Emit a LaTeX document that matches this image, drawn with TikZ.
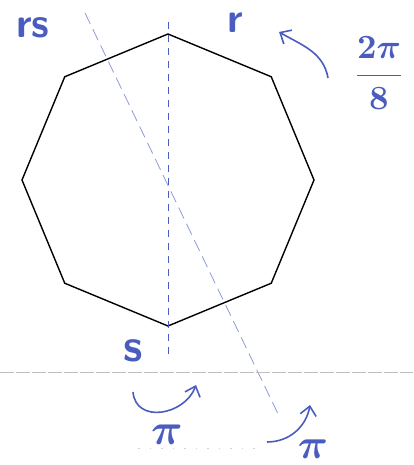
\documentclass[tikz,border=0pt]{standalone}
\usepackage{amsmath,amssymb}
\usepackage{tikz}
\usetikzlibrary{calc,positioning,arrows.meta}
\usepackage{xcolor}
\definecolor{Ink}{HTML}{4A5DBF}
\definecolor{PaleInk}{HTML}{8C9AD8}
\definecolor{Rule}{HTML}{BDBDBD}

\begin{document}
\begin{tikzpicture}[x=1pt,y=1pt, every node/.style={align=center,inner sep=0pt,text=Ink}]
\useasboundingbox (0,0) rectangle (413,465);
% the octagon
\draw[line width=1.4pt,line join=miter,shift={(168,285)}] (90:146) \foreach \a in {135,180,...,405} { -- (\a:146)} -- cycle;
% reflection axes and page rules
\coordinate (sTop) at (168,443);
\coordinate (sBot) at (168,110);
\coordinate (rsTop) at (85,452);
\coordinate (rsBot) at (280,47);
\coordinate (ruleL) at (0,93);
\coordinate (ruleR) at (413,93);
\coordinate (dotsL) at (138,17);
\coordinate (dotsR) at (262,17);
\draw[Ink,line width=1pt,dash pattern=on 7pt off 6pt] (sTop)--(sBot);
\draw[PaleInk,line width=.8pt,dash pattern=on 12pt off 6pt] (rsTop)--(rsBot);
\draw[Rule,line width=.6pt,dash pattern=on 14pt off 2pt] (ruleL)--(ruleR);
\draw[Rule!70,line width=.6pt,dash pattern=on 1.5pt off 10pt] (dotsL)--(dotsR);
% labels
\node[font=\sffamily\bfseries\fontsize{42}{42}\selectfont] (rs) at (33,437) {rs};
\node[font=\sffamily\bfseries\fontsize{42}{42}\selectfont] (r) at (235,442) {r};
\node[font=\sffamily\bfseries\fontsize{46}{46}\selectfont] (s) at (133,114) {s};
\node (angle) at (379,392) {\scalebox{3.4}{$\boldsymbol{\dfrac{2\pi}{8}}$}};
\node (piS) at (167,30) {\scalebox{4.4}{$\boldsymbol{\pi}$}};
\node (piRS) at (313,16) {\scalebox{4.2}{$\boldsymbol{\pi}$}};
% turning arrows
\coordinate (rotFrom) at (328,387);
\coordinate (rotTo) at (279,433);
\coordinate (sFrom) at (133,73);
\coordinate (sTo) at (196,80);
\coordinate (rsFrom) at (267,23);
\coordinate (rsTo) at (310,60);
\draw[-{Straight Barb[length=9pt,width=16pt]},line width=1.6pt,Ink] (rotFrom) to[out=100,in=-30] (rotTo);
\draw[-{Straight Barb[length=9pt,width=16pt]},line width=1.6pt,Ink] (sFrom) to[out=-85,in=-110,looseness=1.3] (sTo);
\draw[-{Straight Barb[length=9pt,width=16pt]},line width=1.6pt,Ink] (rsFrom) to[out=0,in=-100] (rsTo);
\end{tikzpicture}
\end{document}
